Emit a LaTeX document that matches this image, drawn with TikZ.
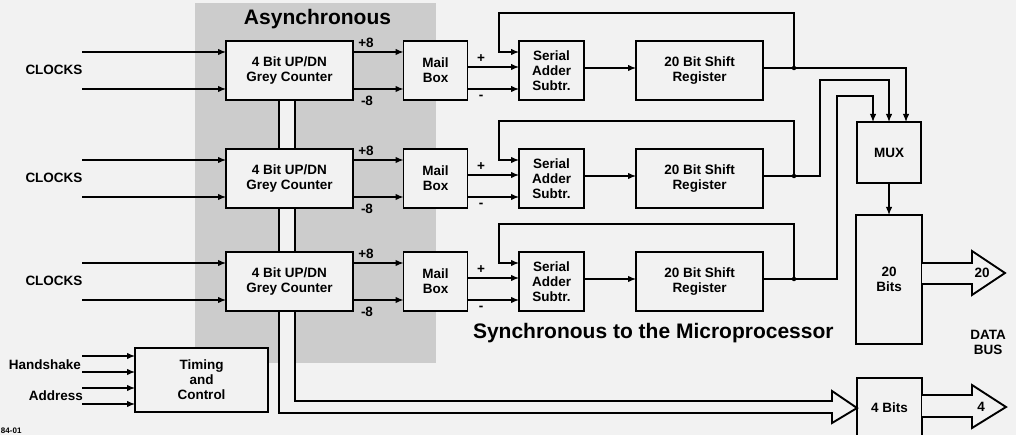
\documentclass[tikz,border=0pt]{standalone}
\usepackage{fontspec}
\setmainfont{Liberation Sans}
\usetikzlibrary{arrows.meta}
\definecolor{bg}{gray}{0.95}
\definecolor{shadegray}{gray}{0.80}
\tikzset{
  every node/.style={font=\bfseries\fontsize{13.5}{15}\selectfont, inner sep=0pt, outer sep=0pt},
  blk/.style={draw, line width=1.9pt, fill=bg, align=center},
  wire/.style={line width=1.3pt},
  arr/.style={wire, -{Latex[length=8pt,width=6.5pt]}},
  bigtitle/.style={font=\bfseries\fontsize{21}{24}\selectfont},
  jdot/.style={circle, fill, inner sep=0pt, minimum size=4.5pt},
  hollow/.style={draw, line width=1.9pt, fill=bg, line join=miter},
  stack/.style={align=center, font=\bfseries\fontsize{13.5}{15}\selectfont}
}
\begin{document}
\begin{tikzpicture}[x=1pt,y=-1pt]
\useasboundingbox (0,0) rectangle (1016,435);
\clip (0,0) rectangle (1016,435);
\fill[bg] (0,0) rectangle (1016,435);
% asynchronous zone
\fill[shadegray] (195,3) rectangle (436,363);
\node[bigtitle, anchor=base] (asy) at (317.5,25) {Asynchronous};
\node[bigtitle, anchor=base west] (syn) at (473,338) {Synchronous to the Microprocessor};

% output registers
\node[blk, minimum width=64, minimum height=61] (mux) at (889,152.5) {MUX};
\node[blk, minimum width=66, minimum height=129] (b20) at (889,279.5) {20\\Bits};
\node[blk, minimum width=65, minimum height=60] (b4) at (889.5,408) {4 Bits};

% bus pipe from counters to 4 Bits
\draw[hollow] (279,70) -- (279,413) -- (832,413) -- (832,423) -- (b4.west) -- (832,391) -- (832,401) -- (295,401) -- (295,70);

\foreach \i/\T in {1/41, 2/149, 3/252} {
  \node[blk, minimum width=127, minimum height=59] (cnt\i) at (289.5,\T+29.5) {4 Bit UP/DN\\Grey Counter};
  \node[blk, minimum width=64, minimum height=59] (mb\i) at (435.5,\T+29.5) {Mail\\Box};
  \node[blk, minimum width=65, minimum height=59] (add\i) at (551.5,\T+29.5) {Serial\\Adder\\Subtr.};
  \node[blk, minimum width=127, minimum height=59] (sr\i) at (699.5,\T+29.5) {20 Bit Shift\\Register};
  \node (clk\i) at (54,\T+29) {CLOCKS};
  \coordinate (ca\i) at (82,\T+11);
  \coordinate (cb\i) at (82,\T+48);
  \coordinate (pl\i) at (0,\T+26);
  \coordinate (ou\i) at (0,\T+27);
  \coordinate (lp\i) at (499,\T-28);
  \draw[arr] (ca\i) -- (ca\i -| cnt\i.west);
  \draw[arr] (cb\i) -- (cb\i -| cnt\i.west);
  \draw[arr] (ca\i -| cnt\i.east) -- (ca\i -| mb\i.west);
  \draw[arr] (cb\i -| cnt\i.east) -- (cb\i -| mb\i.west);
  \node (p8\i) at (366,\T+1.5) {+8};
  \node (m8\i) at (367,\T+60) {-8};
  \draw[arr] (pl\i -| mb\i.east) -- (pl\i -| add\i.west);
  \draw[arr] (cb\i -| mb\i.east) -- (cb\i -| add\i.west);
  \node (ps\i) at (481,\T+18) {+};
  \node (ms\i) at (481,\T+56) {-};
  \draw[arr] (ou\i -| add\i.east) -- (ou\i -| sr\i.west);
  \node[jdot] (j\i) at (794,\T+27) {};
  \draw[wire] (ou\i -| sr\i.east) -- (j\i.center);
  \draw[arr] (j\i.center) |- (lp\i) |- (ca\i -| add\i.west);
}

% routes to MUX
\coordinate (r2) at (820,80);
\coordinate (r3) at (837,96);
\draw[arr] (j1.center) -| ([xshift=17pt]mux.north);
\draw[arr] (j2.center) -| (r2) -| (mux.north);
\draw[arr] (j3.center) -| (r3) -| ([xshift=-16pt]mux.north);
\draw[arr] (mux.south) -- (b20.north);

% data bus arrows
\draw[hollow] (922,263) -- (972,263) -- (972,251) -- (1005,273) -- (972,295) -- (972,284) -- (922,284);
\node (n20) at (982,273) {20};
\draw[hollow] (922,395) -- (972,395) -- (972,385) -- (1006,407) -- (972,428) -- (972,417) -- (922,417);
\node (n4) at (981,407) {4};
\node[stack] (dbus) at (988,342) {DATA\\BUS};

% timing and control
\node[blk, minimum width=133, minimum height=64] (tc) at (201.5,380) {Timing\\and\\Control};
\foreach \k/\yy in {1/356, 2/372, 3/388, 4/404} {
  \coordinate (h\k) at (82,\yy);
  \draw[arr] (h\k) -- (h\k -| tc.west);
}
\node[anchor=east] (hs) at (81,365) {Handshake};
\node[anchor=east] (ad) at (83,396) {Address};
\node[anchor=south west, font=\bfseries\fontsize{8}{9}\selectfont] (fig) at (1,434) {84-01};
\end{tikzpicture}
\end{document}
